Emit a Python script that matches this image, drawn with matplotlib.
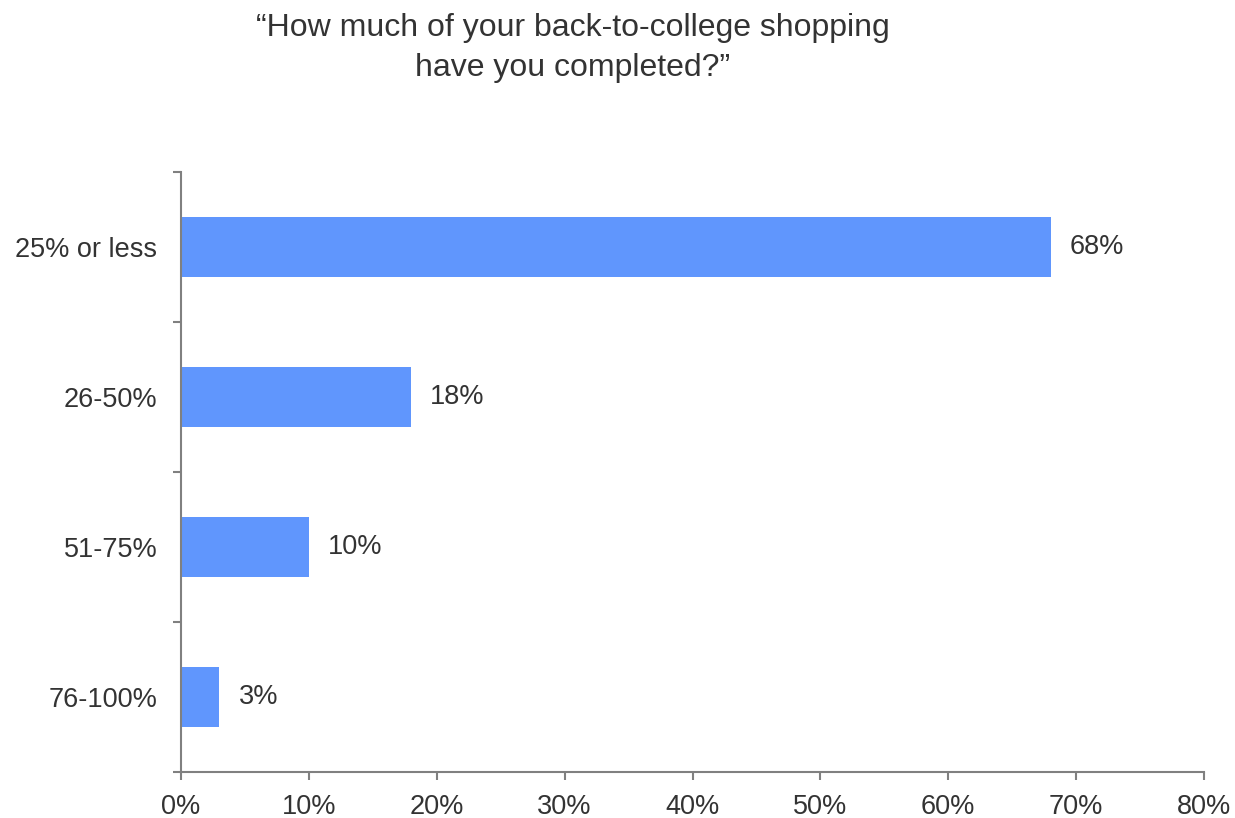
import matplotlib.pyplot as plt

plt.rcParams['font.family'] = ['Liberation Sans', 'DejaVu Sans']

# Réponses au sondage
categories = ['25% or less', '26-50%', '51-75%', '76-100%']
values = [68, 18, 10, 3]
x_ticks = [0, 10, 20, 30, 40, 50, 60, 70, 80]

bar_color = '#6096FD'
text_color = '#333333'
axis_color = '#808080'
fs = 19.5

fig = plt.figure(figsize=(12.35, 8.18), dpi=100)
ax = fig.add_axes([181 / 1235, 1 - 772 / 818, (1204 - 181) / 1235, 600 / 818])

y = list(range(len(categories)))
ax.barh(y, values, height=0.4, color=bar_color)

# Étiquettes de valeur à droite des barres
for yi, v in zip(y, values):
    ax.text(v + 1.5, yi, f'{v}%', va='center', ha='left', fontsize=fs, color=text_color)

ax.set_xlim(0, 80)
ax.set_ylim(len(categories) - 0.5, -0.5)
ax.set_xticks(x_ticks)
ax.set_xticklabels([f'{t}%' for t in x_ticks], fontsize=fs, color=text_color)

# Graduations de l'axe y aux limites entre catégories
ax.set_yticks([i - 0.5 for i in range(len(categories) + 1)])
ax.set_yticklabels([])
ax.set_yticks(y, minor=True)
ax.set_yticklabels(categories, minor=True, fontsize=fs, color=text_color)
ax.tick_params(axis='y', which='minor', length=0, pad=17)
ax.tick_params(axis='y', which='major', length=6, color=axis_color, width=1.5)
ax.tick_params(axis='x', length=6, color=axis_color, width=1.5, pad=10)

for side in ['top', 'right']:
    ax.spines[side].set_visible(False)
for side in ['left', 'bottom']:
    ax.spines[side].set_color(axis_color)
    ax.spines[side].set_linewidth(1.5)

fig.text(573 / 1235, 1 - 48 / 818,
         '\u201cHow much of your back-to-college shopping\nhave you completed?\u201d',
         ha='center', va='center', fontsize=23, color=text_color, linespacing=1.4)

fig.savefig('out.png', dpi=100)
